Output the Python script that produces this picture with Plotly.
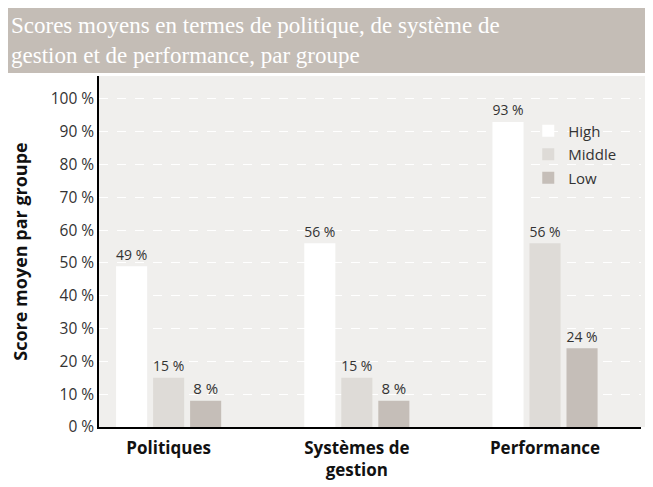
import plotly.graph_objects as go

# Données
categories = ["Politiques", "Systèmes de<br>gestion", "Performance"]
groupes = ["High", "Middle", "Low"]
high = [49, 56, 93]
middle = [15, 15, 56]
low = [8, 8, 24]
y_ticks = [0, 10, 20, 30, 40, 50, 60, 70, 80, 90, 100]
y_labels = [f"{v} %" for v in y_ticks]

couleurs = {"High": "#ffffff", "Middle": "#dedbd7", "Low": "#c5beb8"}
valeurs = {"High": high, "Middle": middle, "Low": low}

x_pos = list(range(len(categories)))

fig = go.Figure()

for g in groupes:
    fig.add_trace(
        go.Bar(
            name=g,
            legendgroup=g,
            x=x_pos,
            y=valeurs[g],
            marker=dict(color=couleurs[g], line=dict(width=0)),
            text=[f"{v} %" for v in valeurs[g]],
            textposition="outside",
            cliponaxis=False,
            textfont=dict(family="Open Sans", size=15, color="#333333"),
        )
    )

# Bandeau du titre
fig.add_shape(
    type="rect", xref="paper", yref="paper",
    x0=-0.17, x1=1.03, y0=1.0085, y1=1.21,
    fillcolor="#c4bdb6", line=dict(width=0), layer="below",
)
# Extension du fond gris à droite
fig.add_shape(
    type="rect", xref="paper", yref="paper",
    x0=1.0, x1=1.03, y0=0, y1=1.0,
    fillcolor="#f0efed", line=dict(width=0), layer="below",
)

fig.add_annotation(
    xref="paper", yref="paper", x=-0.166, y=1.186, xanchor="left", yanchor="top",
    text="Scores moyens en termes de politique, de système de<br>gestion et de performance, par groupe",
    showarrow=False, align="left",
    font=dict(family="Liberation Serif", size=23, color="#ffffff"),
)

fig.update_layout(
    width=645, height=479,
    margin=dict(l=91, r=12, t=68, b=60),
    paper_bgcolor="#ffffff",
    plot_bgcolor="#f0efed",
    barmode="group",
    bargap=0.41,
    bargroupgap=0.16,
    showlegend=True,
    legend=dict(
        x=0.792, y=0.89, xanchor="left", yanchor="top",
        bgcolor="rgba(0,0,0,0)",
        font=dict(family="Open Sans", size=15, color="#333333"),
        tracegroupgap=1, itemsizing="constant",
    ),
    xaxis=dict(
        tickvals=x_pos, ticktext=categories,
        range=[-0.37, 2.51],
        automargin=False,
        showline=True, linecolor="#000000", linewidth=1.5,
        showgrid=False, zeroline=False, ticks="",
        ticklabelstandoff=5,
        tickfont=dict(family="Open Sans", size=17, color="#111111", weight="bold"),
    ),
    yaxis=dict(
        range=[0, 107],
        tickvals=y_ticks, ticktext=y_labels,
        automargin=False,
        showline=True, linecolor="#000000", linewidth=1.5,
        showgrid=True, gridcolor="#ffffff", griddash="dash", gridwidth=1,
        zeroline=False, ticks="",
        tickfont=dict(family="Open Sans", size=15.5, color="#333333"),
        title=dict(
            text="Score moyen par groupe",
            font=dict(family="Open Sans", size=18, color="#111111", weight="bold"),
            standoff=18,
        ),
    ),
)

fig.write_html("out.html")
